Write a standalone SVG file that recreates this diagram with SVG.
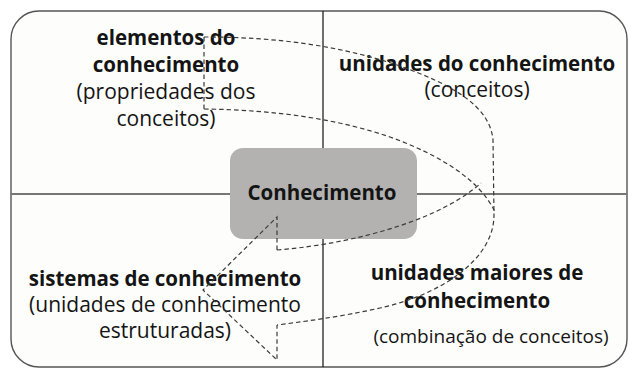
<svg xmlns="http://www.w3.org/2000/svg" width="629" height="370" viewBox="0 0 629 370">
<style>
  .t { font-family: "Open Sans", "Liberation Sans", sans-serif; fill: #141414; text-anchor: middle; }
  .b { font-weight: bold; font-size: 20.5px; }
  .r { font-weight: normal; font-size: 21px; }
  .s { font-weight: normal; font-size: 19px; }
  .dash { fill: none; stroke: #3a3a3a; stroke-width: 1.2; stroke-dasharray: 4.5 3; }
</style>
<rect x="0" y="0" width="629" height="370" fill="#ffffff"/>
<g id="frame">
  <rect x="11" y="11" width="616" height="356" rx="28" ry="28" fill="#fdfdfb" stroke="#555555" stroke-width="1.4"/>
  <line x1="323" y1="11" x2="323" y2="148" stroke="#111111" stroke-width="1.2"/>
  <line x1="323" y1="239" x2="323" y2="367" stroke="#111111" stroke-width="1.2"/>
  <line x1="11" y1="194" x2="230" y2="194" stroke="#777777" stroke-width="2"/>
  <line x1="417" y1="194" x2="627" y2="194" stroke="#777777" stroke-width="2"/>
</g>
<g id="center">
  <rect x="230" y="148" width="187" height="91" rx="13" ry="13" fill="#b3b2b0"/>
  <text class="t b" x="322" y="200">Conhecimento</text>
</g>
<g id="elementos">
  <text class="t" x="166" y="45"><tspan class="b" x="166" y="45">elementos do</tspan><tspan class="b" x="166" y="72">conhecimento</tspan><tspan class="r" x="166" y="98.5">(propriedades dos</tspan><tspan class="r" x="166" y="125.5">conceitos)</tspan></text>
</g>
<g id="unidades">
  <text class="t" x="477" y="71"><tspan class="b" x="477" y="71">unidades do conhecimento</tspan><tspan class="r" x="477" y="97">(conceitos)</tspan></text>
</g>
<g id="sistemas">
  <text class="t" x="165" y="286"><tspan class="b" x="165" y="286">sistemas de conhecimento</tspan><tspan class="r" x="165" y="312">(unidades de conhecimento</tspan><tspan class="r" x="165" y="338">estruturadas)</tspan></text>
</g>
<g id="maiores">
  <text class="t" x="477" y="280"><tspan class="b" x="477" y="280">unidades maiores de</tspan><tspan class="b" x="477" y="308">conhecimento</tspan><tspan class="s" x="491" y="343">(combinação de conceitos)</tspan></text>
</g>
<g id="connectors">
  <path class="dash" d="M204,37 L204,109"/>
  <path class="dash" d="M204,37 C260,37 330,42 400,66 C450,84 490,105 493,140 L494,215 C494,260 440,295 380,308 C340,317 300,322 277,325"/>
  <path class="dash" d="M204,109 C280,110 340,120 390,137 C440,155 480,180 495,212"/>
  <path class="dash" d="M277,250 C330,246 430,228 481,183"/>
  <path class="dash" d="M277,250 L277,217 L203,290 L277,360 L277,325"/>
</g>
</svg>
